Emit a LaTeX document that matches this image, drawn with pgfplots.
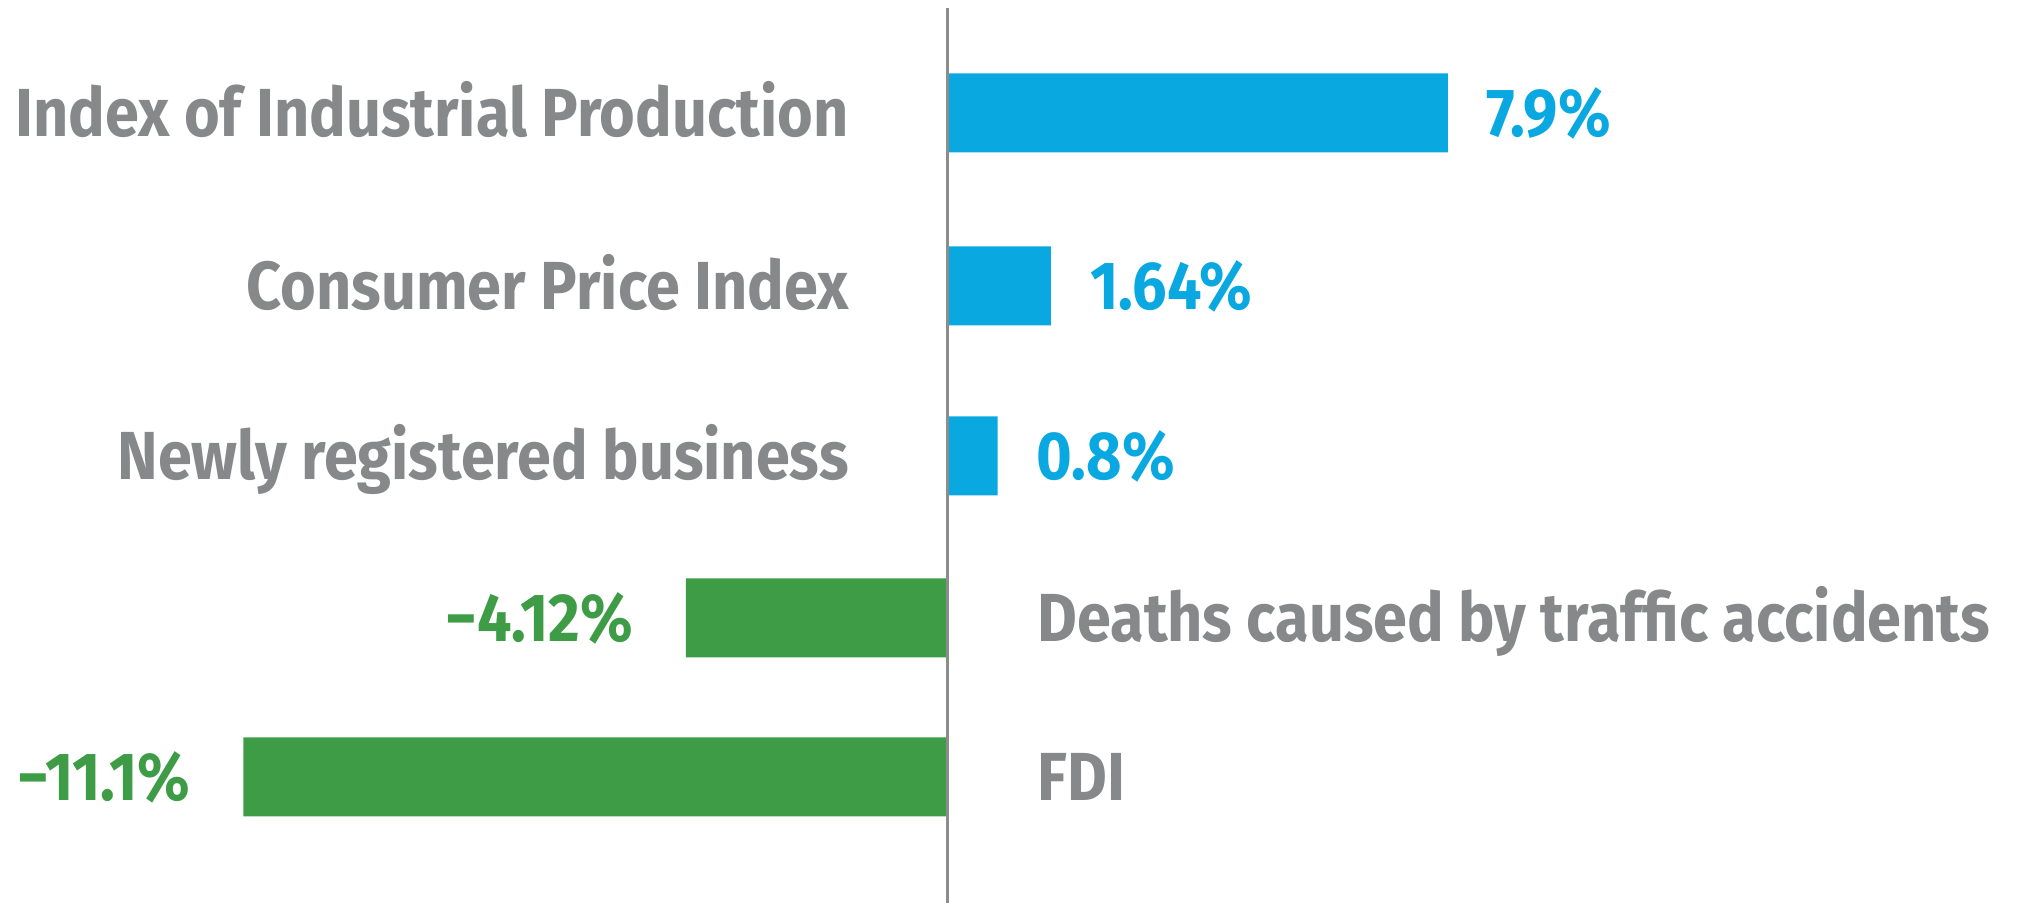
\documentclass[border=0pt]{standalone}
\usepackage{fontspec}
\setmainfont{Fira Sans}[FakeStretch=0.9, UprightFont=* Bold, BoldFont=* Bold]
\usepackage{pgfplots}
\pgfplotsset{compat=1.18}

\definecolor{barblue}{HTML}{0AA8E0}
\definecolor{bargreen}{HTML}{3E9C47}
\definecolor{textgray}{HTML}{87888A}
\definecolor{linegray}{HTML}{8C8C8C}
\newcommand\lblfont{\fontsize{34pt}{40pt}\selectfont}

% 1 px of the reference = 0.5pt; y is in reference pixels (top = 0)
\begin{document}
\begin{tikzpicture}
\begin{axis}[
  name=ax,
  scale only axis, width=1013pt, height=451.5pt,
  axis lines=none,
  xmin=-14.937, xmax=17.019,
  ymin=0, ymax=903, y dir=reverse,
  xbar, bar width=39.5pt, bar shift=0pt,
  clip=false,
  point meta=explicit symbolic,
  nodes near coords,
]
\addplot[fill=barblue, draw=none,
  nodes near coords style={anchor=base west, text=barblue, font=\lblfont, xshift=16pt, yshift=-11.75pt}]
coordinates {
  (7.9,113) [7.9\%]
  (1.64,286) [1.64\%]
  (0.8,456) [0.8\%]
};
\addplot[fill=bargreen, draw=none,
  nodes near coords style={anchor=base east, text=bargreen, font=\lblfont, xshift=-23pt, yshift=-11.75pt}]
coordinates {
  (-4.12,618) [−4.12\%]
  (-11.1,777) [−11.1\%]
};
\draw[linegray, line width=1.5pt] (axis cs:0,8) -- (axis cs:0,903);
\begin{scope}[every node/.style={text=textgray, font=\lblfont, inner sep=0pt}]
\node[anchor=base east, xshift=-49pt, yshift=-11.75pt] at (axis cs:0,113) {Index of Industrial Production};
\node[anchor=base east, xshift=-49pt, yshift=-11.75pt] at (axis cs:0,286) {Consumer Price Index};
\node[anchor=base east, xshift=-49pt, yshift=-11.75pt] at (axis cs:0,456) {Newly registered business};
\node[anchor=base west, xshift=45pt, yshift=-11.75pt] at (axis cs:0,618) {Deaths caused by traffic accidents};
\node[anchor=base west, xshift=45pt, yshift=-11.75pt] at (axis cs:0,777) {FDI};
\end{scope}
\end{axis}
\pgfresetboundingbox
\useasboundingbox (ax.south west) rectangle (ax.north east);
\end{tikzpicture}
\end{document}
